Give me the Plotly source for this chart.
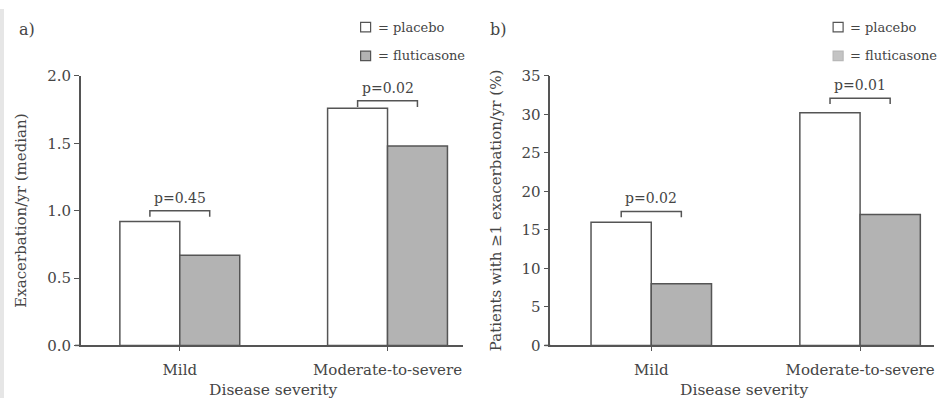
import plotly.graph_objects as go

categories = ["Mild", "Moderate-to-severe"]
a_placebo = [0.92, 1.76]
a_flut = [0.67, 1.48]
b_placebo = [16.0, 30.2]
b_flut = [8.0, 17.0]
a_pvals = ["p=0.45", "p=0.02"]
b_pvals = ["p=0.02", "p=0.01"]
a_bracket_y = [1.0, 1.815]
b_bracket_y = [17.4, 32.1]
a_yticks = [0.0, 0.5, 1.0, 1.5, 2.0]
b_yticks = [0, 5, 10, 15, 20, 25, 30, 35]

W, H = 946, 407
FONT = "DejaVu Serif"
TXT = "#454545"
LINE = "#555555"
GRAY = "#b3b3b3"

def px(x):
    return x / W

def py(y):
    return 1 - y / H

fig = go.Figure()
for xa, ya, plc, flu in [("x", "y", a_placebo, a_flut), ("x2", "y2", b_placebo, b_flut)]:
    fig.add_trace(go.Bar(x=categories, y=plc, marker=dict(color="white", line=dict(color=LINE, width=1.5)),
                         xaxis=xa, yaxis=ya, showlegend=False))
    fig.add_trace(go.Bar(x=categories, y=flu, marker=dict(color=GRAY, line=dict(color=LINE, width=1.5)),
                         xaxis=xa, yaxis=ya, showlegend=False))

ydom = [py(352), py(70)]
axis_common = dict(showline=True, linecolor=LINE, linewidth=1.5, ticks="outside", tickcolor=LINE,
                   tickfont=dict(family=FONT, size=15, color=TXT), showgrid=False, zeroline=False)

fig.update_layout(
    width=W, height=H, margin=dict(l=0, r=0, t=0, b=0),
    plot_bgcolor="white", paper_bgcolor="white",
    barmode="group", bargap=0.423, bargroupgap=0,
    font=dict(family=FONT, color=TXT),
    xaxis=dict(domain=[px(81), px(463)], anchor="y", range=[-0.476, 1.361], ticklen=4, ticklabelstandoff=6,
               **axis_common),
    yaxis=dict(domain=ydom, anchor="x", range=[0, 2.0], tickvals=a_yticks, ticktext=[f"{v:.1f}" for v in a_yticks],
               ticklen=5, **axis_common),
    xaxis2=dict(domain=[px(551), px(935)], anchor="y2", range=[-0.483, 1.354], ticklen=4, ticklabelstandoff=6,
                **axis_common),
    yaxis2=dict(domain=ydom, anchor="x2", range=[0, 35], tickvals=b_yticks, ticklen=5, **axis_common),
)

# faint scan edge on the left
fig.add_shape(type="rect", xref="paper", yref="paper", x0=0, x1=px(4), y0=0, y1=1,
              fillcolor="#e6e6e6", line=dict(width=0), layer="below")

# axis titles
for x, lab in [(273, "Disease severity"), (745, "Disease severity")]:
    fig.add_annotation(x=px(x), y=py(399), xref="paper", yref="paper", text=lab, showarrow=False,
                       xanchor="center", yanchor="middle", font=dict(family=FONT, size=15.5, color=TXT))
for x, lab in [(21, "Exacerbation/yr (median)"), (496, "Patients with ≥1 exacerbation/yr (%)")]:
    fig.add_annotation(x=px(x), y=py(211), xref="paper", yref="paper", text=lab, showarrow=False, textangle=-90,
                       xanchor="center", yanchor="middle", font=dict(family=FONT, size=15, color=TXT))

for x0, x1 in [(75, 81), (545, 551)]:
    fig.add_shape(type="line", xref="paper", yref="paper", x0=px(x0), x1=px(x1), y0=py(352), y1=py(352),
                  line=dict(color=LINE, width=1.5))

half = 0.144
for xa, ya, ys, pv, drop in [("x", "y", a_bracket_y, a_pvals, 0.045), ("x2", "y2", b_bracket_y, b_pvals, 0.75)]:
    for i, (yb, p) in enumerate(zip(ys, pv)):
        fig.add_shape(type="path", xref=xa, yref=ya,
                      path=f"M {i-half},{yb-drop} L {i-half},{yb} L {i+half},{yb} L {i+half},{yb-drop}",
                      line=dict(color=LINE, width=1.5))
        fig.add_annotation(x=i, y=yb, xref=xa, yref=ya, text=p, showarrow=False, yanchor="bottom", yshift=3,
                           font=dict(family=FONT, size=14, color=TXT))

for x, lab in [(17, "a)"), (489, "b)")]:
    fig.add_annotation(x=px(x), y=py(21), xref="paper", yref="paper", text=lab, showarrow=False,
                       xanchor="left", yanchor="middle", font=dict(family=FONT, size=16, color=TXT))

for lx, flcol, fledge in [(361, GRAY, LINE), (834, "#c4c4c4", "#b8b8b8")]:
    for yy, col, edge, lab in [(19, "white", LINE, "= placebo"), (49, flcol, fledge, "= fluticasone")]:
        fig.add_shape(type="rect", xref="paper", yref="paper", x0=px(lx), x1=px(lx + 10), y0=py(yy - 5), y1=py(yy + 5),
                      fillcolor=col, line=dict(color=edge, width=1.2))
        fig.add_annotation(x=px(lx + 15), y=py(yy), xref="paper", yref="paper", text=lab, showarrow=False,
                           xanchor="left", yanchor="middle", font=dict(family=FONT, size=13, color=TXT))

fig.write_html("out.html")
